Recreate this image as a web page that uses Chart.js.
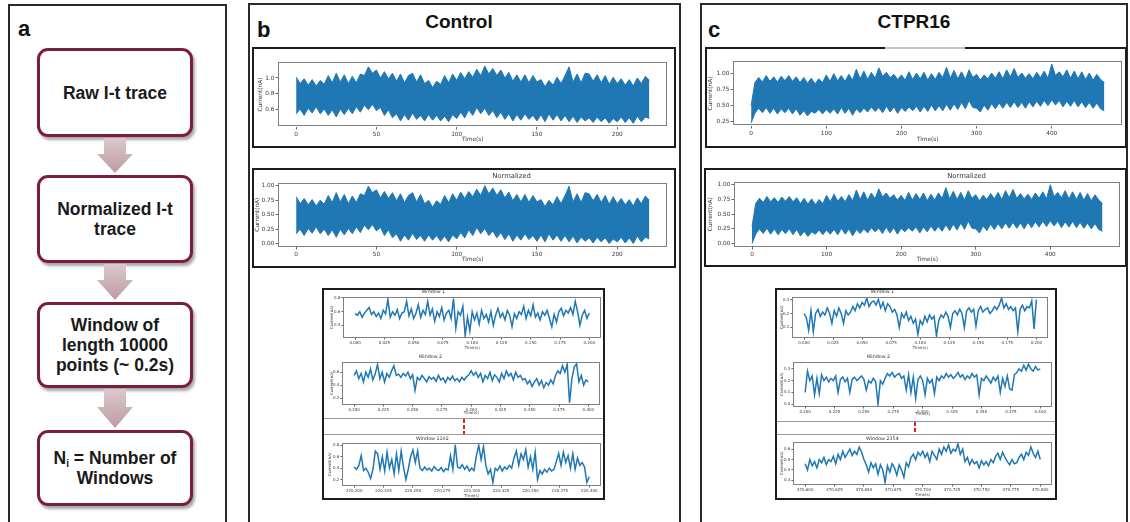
<!DOCTYPE html>
<html>
<head>
<meta charset="utf-8">
<script src="https://cdn.jsdelivr.net/npm/chart.js@4.4.1/dist/chart.umd.min.js"></script>
<style>
body{margin:0;width:1130px;height:522px;overflow:hidden;background:#fff;position:relative;font-family:"Liberation Sans",Arial,sans-serif;}
.abs{position:absolute;box-sizing:border-box;}
.panel{border:2px solid #2a2a2a;}
.frame{border:2px solid #1c1c1c;}
.letter{font-weight:bold;font-size:22px;line-height:22px;color:#111;}
.head{font-weight:bold;font-size:19px;line-height:19px;color:#111;text-align:center;width:200px;}
.step{border:3px solid #7b1d3d;border-radius:11px;background:#fff;box-shadow:2px 3px 3px rgba(0,0,0,.35);display:flex;align-items:center;justify-content:center;text-align:center;font-weight:bold;font-size:17.5px;line-height:20px;color:#1a1a1a;left:37px;width:156px;}
.step sub{font-size:10px;line-height:0;vertical-align:-3px;}
.arrow{left:97px;width:36px;background:linear-gradient(#dcc8cb,#bd9ca2);}
.sep{height:1px;background:#9a9a9a;}
.dash{width:2px;background:repeating-linear-gradient(to bottom,#e0201c 0 4px,transparent 4px 6px);}
canvas{position:absolute;z-index:2;}
</style>
</head>
<body>

<!-- panel a: processing steps -->
<div class="abs panel" style="left:8px;top:4px;width:219px;height:540px;"></div>
<div class="abs letter" style="left:18px;top:18px;">a</div>
<div class="abs step" style="top:48px;height:89px;"><div>Raw I-t trace</div></div>
<div class="abs arrow" style="top:138px;height:35px;clip-path:polygon(7px 0,29px 0,29px 16px,36px 16px,18px 35px,0 16px,7px 16px);"></div>
<div class="abs step" style="top:175px;height:88px;"><div>Normalized I-t<br>trace</div></div>
<div class="abs arrow" style="top:264px;height:36px;clip-path:polygon(7px 0,29px 0,29px 16px,36px 16px,18px 36px,0 16px,7px 16px);"></div>
<div class="abs step" style="top:302px;height:86px;"><div>Window of<br>length 10000<br>points (~ 0.2s)</div></div>
<div class="abs arrow" style="top:389px;height:39px;clip-path:polygon(7px 0,29px 0,29px 18px,36px 18px,18px 39px,0 18px,7px 18px);"></div>
<div class="abs step" style="top:430px;height:76px;"><div>N<sub>i</sub> = Number of<br>Windows</div></div>

<!-- panel b: Control -->
<div class="abs panel" style="left:248px;top:3px;width:433px;height:540px;"></div>
<div class="abs letter" style="left:257px;top:19px;">b</div>
<div class="abs head" style="left:359px;top:12px;">Control</div>
<div class="abs frame" style="left:252px;top:47px;width:424px;height:101px;"></div>
<div class="abs frame" style="left:252px;top:168px;width:424px;height:100px;"></div>
<div class="abs frame" style="left:322px;top:288px;width:283px;height:212px;"></div>
<div class="abs sep" style="left:324px;top:418px;width:279px;"></div>
<div class="abs sep" style="left:324px;top:434px;width:279px;"></div>
<div class="abs dash" style="left:463px;top:419px;height:15px;"></div>

<!-- panel c: CTPR16 -->
<div class="abs panel" style="left:700px;top:3px;width:428px;height:540px;"></div>
<div class="abs letter" style="left:708px;top:19px;">c</div>
<div class="abs head" style="left:814px;top:12px;">CTPR16</div>
<div class="abs frame" style="left:705px;top:47px;width:422px;height:101px;"></div>
<div class="abs" style="left:885px;top:47px;width:80px;height:2px;background:#c4c4c4;"></div>
<div class="abs frame" style="left:704px;top:168px;width:423px;height:99px;"></div>
<div class="abs frame" style="left:775px;top:288px;width:282px;height:212px;"></div>
<div class="abs sep" style="left:777px;top:421px;width:278px;"></div>
<div class="abs sep" style="left:777px;top:434px;width:278px;"></div>
<div class="abs dash" style="left:914px;top:422px;height:12px;"></div>

<script>
// ---- Control, raw trace envelope (nA), sampled every 2.5 s from 0 to 220 s
const ctlStep = 2.5;
const ctlRawHi = [1.01,0.93,0.99,0.91,0.98,0.90,0.97,0.92,1.03,
  0.94,1.06,0.95,1.04,0.93,1.02,0.94,1.05,
  1.03,1.14,1.06,1.10,1.00,1.08,0.99,1.06,
  0.96,1.05,0.94,1.03,1.06,0.95,1.04,0.93,
  0.97,0.88,0.96,0.92,1.03,0.94,1.05,0.97,
  1.07,0.99,1.08,1.01,1.11,1.03,1.15,1.05,
  1.12,1.03,1.10,1.00,1.07,0.96,1.04,0.95,
  1.04,0.94,1.03,0.95,0.98,0.89,0.97,0.91,
  1.01,0.93,1.03,1.14,0.95,1.05,0.94,1.06,
  1.05,0.96,1.04,0.94,1.03,0.92,1.01,0.93,
  0.99,0.91,0.98,0.90,1.00,0.93,1.02,0.97];
const ctlRawLo = [0.55,0.61,0.53,0.62,0.56,0.64,0.55,0.61,0.53,
  0.60,0.51,0.61,0.54,0.62,0.55,0.64,0.57,
  0.66,0.60,0.67,0.59,0.63,0.53,0.60,0.50,
  0.55,0.46,0.54,0.47,0.56,0.48,0.53,0.46,
  0.54,0.47,0.53,0.46,0.52,0.45,0.54,0.49,
  0.57,0.50,0.60,0.53,0.63,0.55,0.62,0.53,
  0.59,0.50,0.57,0.48,0.55,0.46,0.54,0.47,
  0.55,0.48,0.53,0.46,0.54,0.45,0.55,0.47,
  0.54,0.46,0.53,0.45,0.52,0.44,0.51,0.46,
  0.50,0.44,0.51,0.45,0.50,0.43,0.49,0.45,
  0.51,0.44,0.50,0.43,0.52,0.45,0.51,0.49];
// ---- Control, normalized envelope
const ctlNormHi = [0.81,0.69,0.78,0.67,0.76,0.65,0.75,0.68,0.83,
  0.71,0.88,0.72,0.85,0.69,0.82,0.71,0.86,
  0.83,0.99,0.88,0.93,0.79,0.90,0.78,0.88,
  0.74,0.86,0.71,0.83,0.88,0.72,0.85,0.69,
  0.75,0.63,0.74,0.68,0.83,0.71,0.86,0.75,
  0.89,0.78,0.90,0.81,0.94,0.83,1.00,0.86,
  0.96,0.83,0.93,0.79,0.89,0.74,0.85,0.72,
  0.85,0.71,0.83,0.72,0.76,0.64,0.75,0.67,
  0.81,0.69,0.83,0.99,0.72,0.86,0.71,0.88,
  0.86,0.74,0.85,0.71,0.83,0.68,0.81,0.69,
  0.78,0.67,0.76,0.65,0.79,0.69,0.82,0.75];
const ctlNormLo = [0.17,0.25,0.14,0.26,0.18,0.29,0.17,0.25,0.14,
  0.24,0.11,0.25,0.15,0.26,0.17,0.29,0.19,
  0.32,0.24,0.33,0.22,0.28,0.14,0.24,0.10,
  0.17,0.04,0.15,0.06,0.18,0.07,0.14,0.04,
  0.15,0.06,0.14,0.04,0.13,0.03,0.15,0.08,
  0.19,0.10,0.24,0.14,0.28,0.17,0.26,0.14,
  0.22,0.10,0.19,0.07,0.17,0.04,0.15,0.06,
  0.17,0.07,0.14,0.04,0.15,0.03,0.17,0.06,
  0.15,0.04,0.14,0.03,0.13,0.01,0.11,0.04,
  0.10,0.01,0.11,0.03,0.10,0.00,0.08,0.03,
  0.11,0.01,0.10,0.00,0.13,0.03,0.11,0.08];

// ---- CTPR16, raw trace envelope (nA), sampled every 5 s from 0 to 470 s
const ctpStep = 5;
const ctpRawHi = [0.50,0.86,0.94,0.87,0.97,0.88,0.95,0.87,0.96,0.89,
  0.97,0.88,0.95,0.86,0.94,0.85,0.93,0.84,0.92,0.86,
  0.98,0.88,1.00,0.89,0.97,0.88,0.99,0.90,1.07,0.92,
  1.04,0.91,1.02,0.93,1.09,0.96,1.02,0.94,0.99,0.91,
  0.98,0.90,1.03,0.91,1.01,0.92,1.02,0.90,1.00,0.91,
  1.02,0.94,1.10,0.93,1.05,0.92,1.03,0.91,1.06,0.94,
  0.99,0.90,0.98,0.92,1.01,0.93,1.03,0.92,1.06,0.95,
  1.08,0.94,1.01,0.93,1.00,0.92,1.02,0.94,1.04,0.93,
  1.15,0.97,1.03,0.95,1.06,0.93,1.04,0.92,1.03,0.91,
  1.01,0.90,0.99,0.91,0.86];
const ctpRawLo = [0.23,0.38,0.46,0.39,0.47,0.38,0.46,0.37,0.45,0.39,
  0.46,0.37,0.45,0.35,0.42,0.34,0.41,0.38,0.44,0.37,
  0.44,0.38,0.45,0.37,0.47,0.38,0.46,0.35,0.45,0.39,
  0.46,0.40,0.48,0.41,0.47,0.39,0.49,0.40,0.48,0.38,
  0.47,0.41,0.48,0.42,0.49,0.40,0.49,0.41,0.51,0.42,
  0.50,0.42,0.52,0.43,0.53,0.44,0.55,0.45,0.58,0.47,
  0.46,0.40,0.51,0.43,0.53,0.45,0.54,0.46,0.55,0.47,
  0.56,0.47,0.55,0.46,0.56,0.48,0.57,0.49,0.58,0.50,
  0.59,0.51,0.58,0.48,0.57,0.49,0.58,0.48,0.56,0.47,
  0.55,0.46,0.54,0.45,0.42];
// ---- CTPR16, normalized envelope
const ctpNormHi = [0.29,0.68,0.77,0.70,0.80,0.71,0.78,0.70,0.79,0.72,
  0.80,0.71,0.78,0.68,0.77,0.67,0.76,0.66,0.75,0.68,
  0.82,0.71,0.84,0.72,0.80,0.71,0.83,0.73,0.91,0.75,
  0.88,0.74,0.86,0.76,0.93,0.79,0.86,0.77,0.83,0.74,
  0.82,0.73,0.87,0.74,0.85,0.75,0.86,0.73,0.84,0.74,
  0.86,0.77,0.95,0.76,0.89,0.75,0.87,0.74,0.90,0.77,
  0.83,0.73,0.82,0.75,0.85,0.76,0.87,0.75,0.90,0.78,
  0.92,0.77,0.85,0.76,0.84,0.75,0.86,0.77,0.88,0.76,
  1.00,0.80,0.87,0.78,0.90,0.76,0.88,0.75,0.87,0.74,
  0.85,0.73,0.83,0.74,0.68];
const ctpNormLo = [0.00,0.16,0.25,0.17,0.26,0.16,0.25,0.15,0.24,0.17,
  0.25,0.15,0.24,0.13,0.21,0.12,0.20,0.16,0.23,0.15,
  0.23,0.16,0.24,0.15,0.26,0.16,0.25,0.13,0.24,0.17,
  0.25,0.18,0.27,0.20,0.26,0.17,0.28,0.18,0.27,0.16,
  0.26,0.20,0.27,0.21,0.28,0.18,0.28,0.20,0.30,0.21,
  0.29,0.21,0.32,0.22,0.33,0.23,0.35,0.24,0.38,0.26,
  0.25,0.18,0.30,0.22,0.33,0.24,0.34,0.25,0.35,0.26,
  0.36,0.26,0.35,0.25,0.36,0.27,0.37,0.28,0.38,0.29,
  0.39,0.30,0.38,0.27,0.37,0.28,0.38,0.27,0.36,0.26,
  0.35,0.25,0.34,0.24,0.21];

// ---- 0.2 s windows, one sample every 2 ms
const winStep = 0.002;
const ctlWin1 = [0.57,0.55,0.60,0.52,0.58,0.62,0.66,0.56,0.60,0.53,0.58,
  0.50,0.62,0.57,0.78,0.52,0.60,0.55,0.63,0.50,0.58,
  0.60,0.75,0.54,0.64,0.50,0.58,0.70,0.52,0.62,0.56,
  0.75,0.55,0.64,0.46,0.60,0.53,0.66,0.48,0.58,0.62,
  0.50,0.79,0.36,0.60,0.55,0.68,0.25,0.52,0.32,0.60,
  0.48,0.58,0.42,0.62,0.50,0.56,0.45,0.60,0.40,0.55,
  0.65,0.52,0.58,0.48,0.62,0.55,0.38,0.57,0.50,0.60,
  0.56,0.68,0.50,0.62,0.54,0.70,0.52,0.58,0.48,0.60,
  0.55,0.62,0.50,0.38,0.56,0.45,0.60,0.65,0.54,0.62,
  0.58,0.66,0.56,0.75,0.60,0.40,0.55,0.62,0.50,0.58];
const ctlWin2 = [0.55,0.62,0.50,0.58,0.45,0.60,0.52,0.65,0.48,0.57,0.72,
  0.50,0.60,0.45,0.58,0.52,0.62,0.70,0.55,0.57,0.52,
  0.58,0.54,0.60,0.50,0.56,0.32,0.52,0.48,0.55,0.50,
  0.45,0.53,0.49,0.52,0.46,0.55,0.48,0.51,0.44,0.52,
  0.48,0.54,0.47,0.50,0.45,0.52,0.48,0.53,0.56,0.62,
  0.55,0.60,0.52,0.58,0.45,0.55,0.50,0.60,0.47,0.56,
  0.52,0.45,0.58,0.50,0.62,0.54,0.58,0.48,0.60,0.52,
  0.55,0.48,0.50,0.42,0.47,0.38,0.45,0.50,0.40,0.47,
  0.36,0.44,0.40,0.48,0.42,0.55,0.62,0.58,0.70,0.60,
  0.72,0.13,0.50,0.68,0.73,0.45,0.55,0.40,0.48,0.45];
const ctlWin1102 = [0.42,0.38,0.45,0.62,0.36,0.40,0.33,0.22,0.38,0.70,0.65,
  0.38,0.60,0.35,0.68,0.40,0.55,0.30,0.65,0.36,0.70,
  0.42,0.20,0.38,0.60,0.72,0.50,0.70,0.40,0.36,0.42,
  0.37,0.40,0.35,0.43,0.38,0.36,0.41,0.34,0.39,0.37,
  0.62,0.38,0.81,0.42,0.40,0.46,0.38,0.44,0.35,0.40,
  0.36,0.62,0.80,0.55,0.78,0.45,0.30,0.38,0.15,0.40,
  0.36,0.44,0.35,0.42,0.38,0.45,0.40,0.58,0.70,0.45,
  0.65,0.55,0.72,0.42,0.60,0.38,0.68,0.20,0.36,0.30,
  0.38,0.33,0.40,0.35,0.38,0.52,0.66,0.45,0.68,0.50,
  0.62,0.40,0.65,0.38,0.58,0.45,0.50,0.42,0.15,0.25];
const ctpWin1 = [0.20,0.17,0.08,0.22,0.07,0.20,0.23,0.18,0.21,0.19,0.24,
  0.20,0.13,0.22,0.18,0.24,0.20,0.13,0.22,0.19,0.21,
  0.25,0.22,0.27,0.24,0.28,0.26,0.31,0.25,0.28,0.29,
  0.26,0.30,0.24,0.28,0.22,0.27,0.25,0.21,0.23,0.19,
  0.10,0.20,0.17,0.21,0.15,0.18,0.13,0.16,0.05,0.15,
  0.12,0.18,0.14,0.19,0.16,0.18,0.04,0.15,0.19,0.17,
  0.21,0.18,0.10,0.20,0.22,0.19,0.23,0.20,0.10,0.22,
  0.24,0.21,0.23,0.11,0.22,0.25,0.21,0.23,0.24,0.20,
  0.22,0.25,0.23,0.26,0.31,0.24,0.27,0.23,0.25,0.22,
  0.24,0.07,0.23,0.26,0.22,0.25,0.24,0.29,0.09,0.30];
const ctpWin2 = [0.10,0.28,0.20,0.24,0.08,0.22,0.09,0.25,0.20,0.23,0.19,
  0.22,0.20,0.24,0.10,0.21,0.23,0.19,0.22,0.10,0.21,
  0.23,0.20,0.22,0.24,0.21,0.12,0.20,0.18,0.22,0.19,
  0.00,0.20,0.17,0.22,0.26,0.24,0.27,0.23,0.25,0.26,
  0.22,0.24,0.12,0.25,0.10,0.23,0.05,0.21,0.24,0.20,
  0.08,0.22,0.18,0.21,0.09,0.23,0.20,0.24,0.22,0.26,
  0.23,0.25,0.22,0.24,0.27,0.23,0.25,0.21,0.24,0.22,
  0.26,0.23,0.25,0.08,0.22,0.20,0.24,0.21,0.18,0.23,
  0.20,0.24,0.10,0.22,0.15,0.24,0.13,0.12,0.25,0.27,
  0.30,0.28,0.33,0.29,0.34,0.30,0.28,0.32,0.29,0.30];
const ctpWin2354 = [0.46,0.40,0.50,0.44,0.48,0.42,0.50,0.47,0.52,0.45,0.50,
  0.48,0.53,0.46,0.55,0.50,0.58,0.52,0.56,0.60,0.54,
  0.58,0.55,0.62,0.57,0.50,0.45,0.38,0.47,0.42,0.46,
  0.36,0.45,0.40,0.28,0.44,0.38,0.46,0.42,0.35,0.45,
  0.40,0.33,0.47,0.43,0.52,0.55,0.50,0.57,0.54,0.58,
  0.52,0.56,0.48,0.58,0.54,0.50,0.60,0.55,0.62,0.58,
  0.64,0.56,0.60,0.58,0.65,0.55,0.60,0.48,0.52,0.45,
  0.50,0.46,0.48,0.42,0.49,0.45,0.48,0.44,0.50,0.47,
  0.53,0.56,0.50,0.57,0.52,0.48,0.45,0.50,0.46,0.47,
  0.52,0.55,0.50,0.57,0.54,0.62,0.56,0.52,0.58,0.50];

// ---- tick values
const ctlTimeTicks = [0, 50, 100, 150, 200];
const ctpTimeTicks = [0, 100, 200, 300, 400];
const ctlRawYTicks = [0.6, 0.8, 1.0];
const ctpRawYTicks = [0.25, 0.50, 0.75, 1.00];
const normYTicks = [0.00, 0.25, 0.50, 0.75, 1.00];
const win1XTicks = [0.000, 0.025, 0.050, 0.075, 0.100, 0.125, 0.150, 0.175, 0.200];
const win2XTicks = [0.200, 0.225, 0.250, 0.275, 0.300, 0.325, 0.350, 0.375, 0.400];
const win1102XTicks = [220.200, 220.225, 220.250, 220.275, 220.300, 220.325, 220.350, 220.375, 220.400];
const win2354XTicks = [470.600, 470.625, 470.650, 470.675, 470.700, 470.725, 470.750, 470.775, 470.800];
const ctlWin1YTicks = [0.4, 0.6, 0.8];
const ctlWin2YTicks = [0.2, 0.4, 0.6];
const ctlWin1102YTicks = [0.2, 0.4, 0.6, 0.8];
const ctpWin1YTicks = [0.1, 0.2, 0.3];
const ctpWin2YTicks = [0.0, 0.1, 0.2, 0.3];
const ctpWin2354YTicks = [0.3, 0.4, 0.5, 0.6];

Chart.defaults.font.family = '"DejaVu Sans", sans-serif';
Chart.defaults.color = '#383838';
Chart.defaults.animation = false;

const blue = '#1f77b4';

function pts(vals, t0, dt) {
  return vals.map((v, i) => ({ x: t0 + i * dt, y: v }));
}

function band(hi, lo, t0, dt) {
  return [
    { data: pts(hi, t0, dt), borderColor: blue, borderWidth: 1, pointRadius: 0, fill: false },
    { data: pts(lo, t0, dt), borderColor: blue, borderWidth: 1, pointRadius: 0, backgroundColor: blue, fill: '-1' }
  ];
}

function trace(vals, t0) {
  return [{ data: pts(vals, t0, winStep), borderColor: blue, borderWidth: 1.5, pointRadius: 0, fill: false }];
}

// p: axes box [l,t,r,b] in page pixels, plus ranges, ticks, fonts and label spots
function plot(p) {
  const [l, t, r, b] = p.box;
  const fs = p.fs, lh = fs * 1.2;
  const left = p.yTitleX - lh / 2 - 1;
  const top = p.title ? p.titleY - p.tfs : t - 4;
  const right = r + 4;
  const bottom = p.xTitleY + lh / 2 + 1;

  const cv = document.createElement('canvas');
  cv.width = right - left;
  cv.height = bottom - top;
  cv.style.left = left + 'px';
  cv.style.top = top + 'px';
  document.body.appendChild(cv);

  const axesBox = {
    id: 'axesBox',
    afterDatasetsDraw(chart) {
      const a = chart.chartArea, c = chart.ctx;
      c.save();
      c.strokeStyle = '#808080';
      c.lineWidth = 1;
      c.strokeRect(Math.round(a.left) + 0.5, Math.round(a.top) + 0.5,
        Math.round(a.right - a.left) - 1, Math.round(a.bottom - a.top) - 1);
      if (p.title) {
        c.fillStyle = '#333';
        c.font = p.tfs + 'px "DejaVu Sans"';
        c.textAlign = 'center';
        c.textBaseline = 'middle';
        c.fillText(p.title, p.titleX - left, p.titleY - top);
      }
      c.restore();
    }
  };

  const tickGrid = { display: true, drawOnChartArea: false, drawTicks: true, tickLength: p.tl, color: '#666', lineWidth: 1 };

  return new Chart(cv, {
    type: 'line',
    data: { datasets: p.datasets },
    plugins: [axesBox],
    options: {
      responsive: false,
      devicePixelRatio: 1,
      layout: { padding: { left: 0, top: t - top, right: right - r, bottom: 0 } },
      plugins: { legend: { display: false }, tooltip: { enabled: false } },
      scales: {
        x: {
          type: 'linear',
          min: p.xRange[0], max: p.xRange[1],
          afterBuildTicks: s => { s.ticks = p.xTicks.map(v => ({ value: v })); },
          afterFit: s => { s.height = bottom - b; },
          ticks: { autoSkip: false, maxRotation: 0, padding: 1, font: { size: fs }, callback: v => v.toFixed(p.xDec) },
          grid: tickGrid,
          border: { display: false },
          title: { display: true, text: 'Time(s)', font: { size: fs }, padding: { top: 0, bottom: 1 } }
        },
        y: {
          min: p.yRange[0], max: p.yRange[1],
          afterBuildTicks: s => { s.ticks = p.yTicks.map(v => ({ value: v })); },
          afterFit: s => { s.width = l - left; },
          ticks: { padding: 1, font: { size: fs }, callback: v => v.toFixed(p.yDec) },
          grid: tickGrid,
          border: { display: false },
          title: { display: true, text: 'Current(nA)', font: { size: fs }, padding: { top: 1, bottom: 0 } }
        }
      }
    }
  });
}

// Control
plot({ box: [278, 62, 667, 127], xRange: [-11, 231], yRange: [0.39, 1.195],
  xTicks: ctlTimeTicks, yTicks: ctlRawYTicks, xDec: 0, yDec: 1, fs: 5.8, tl: 3,
  yTitleX: 260, xTitleY: 140, datasets: band(ctlRawHi, ctlRawLo, 0, ctlStep) });
plot({ box: [278, 183, 667, 247], xRange: [-11, 231], yRange: [-0.05, 1.05],
  xTicks: ctlTimeTicks, yTicks: normYTicks, xDec: 0, yDec: 2, fs: 5.8, tl: 3,
  yTitleX: 257, xTitleY: 260, title: 'Normalized', titleX: 511, titleY: 176, tfs: 6.8,
  datasets: band(ctlNormHi, ctlNormLo, 0, ctlStep) });
plot({ box: [343, 297, 601, 338], xRange: [-0.01, 0.21], yRange: [0.223, 0.817],
  xTicks: win1XTicks, yTicks: ctlWin1YTicks, xDec: 3, yDec: 1, fs: 4, tl: 2,
  yTitleX: 332, xTitleY: 348, title: 'Window 1', titleX: 433, titleY: 292, tfs: 4.8,
  datasets: trace(ctlWin1, 0) });
plot({ box: [342, 362, 600, 405], xRange: [0.19, 0.41], yRange: [0.10, 0.76],
  xTicks: win2XTicks, yTicks: ctlWin2YTicks, xDec: 3, yDec: 1, fs: 4, tl: 2,
  yTitleX: 332, xTitleY: 413, title: 'Window 2', titleX: 430, titleY: 357, tfs: 4.8,
  datasets: trace(ctlWin2, 0.2) });
plot({ box: [342, 443, 601, 486], xRange: [220.19, 220.41], yRange: [0.096, 0.844],
  xTicks: win1102XTicks, yTicks: ctlWin1102YTicks, xDec: 3, yDec: 1, fs: 4, tl: 2,
  yTitleX: 330, xTitleY: 496, title: 'Window 1102', titleX: 432, titleY: 439, tfs: 4.8,
  datasets: trace(ctlWin1102, 220.2) });

// CTPR16
plot({ box: [733, 61, 1122, 126], xRange: [-23.5, 493.5], yRange: [0.19, 1.19],
  xTicks: ctpTimeTicks, yTicks: ctpRawYTicks, xDec: 0, yDec: 2, fs: 5.8, tl: 3,
  yTitleX: 710, xTitleY: 140, datasets: band(ctpRawHi, ctpRawLo, 0, ctpStep) });
plot({ box: [734, 182, 1120, 247], xRange: [-23.5, 493.5], yRange: [-0.05, 1.05],
  xTicks: ctpTimeTicks, yTicks: normYTicks, xDec: 0, yDec: 2, fs: 5.8, tl: 3,
  yTitleX: 710, xTitleY: 260, title: 'Normalized', titleX: 966, titleY: 176, tfs: 6.8,
  datasets: band(ctpNormHi, ctpNormLo, 0, ctpStep) });
plot({ box: [792, 297, 1048, 338], xRange: [-0.01, 0.21], yRange: [0.027, 0.32],
  xTicks: win1XTicks, yTicks: ctpWin1YTicks, xDec: 3, yDec: 1, fs: 4, tl: 2,
  yTitleX: 782, xTitleY: 348, title: 'Window 1', titleX: 882, titleY: 292, tfs: 4.8,
  datasets: trace(ctpWin1, 0) });
plot({ box: [793, 362, 1052, 407], xRange: [0.19, 0.41], yRange: [-0.02, 0.36],
  xTicks: win2XTicks, yTicks: ctpWin2YTicks, xDec: 3, yDec: 1, fs: 4, tl: 2,
  yTitleX: 782, xTitleY: 414, title: 'Window 2', titleX: 878, titleY: 357, tfs: 4.8,
  datasets: trace(ctpWin2, 0.2) });
plot({ box: [793, 442, 1052, 485], xRange: [470.59, 470.81], yRange: [0.26, 0.67],
  xTicks: win2354XTicks, yTicks: ctpWin2354YTicks, xDec: 3, yDec: 1, fs: 4, tl: 2,
  yTitleX: 782, xTitleY: 495, title: 'Window 2354', titleX: 882, titleY: 439, tfs: 4.8,
  datasets: trace(ctpWin2354, 470.6) });
</script>
</body>
</html>
